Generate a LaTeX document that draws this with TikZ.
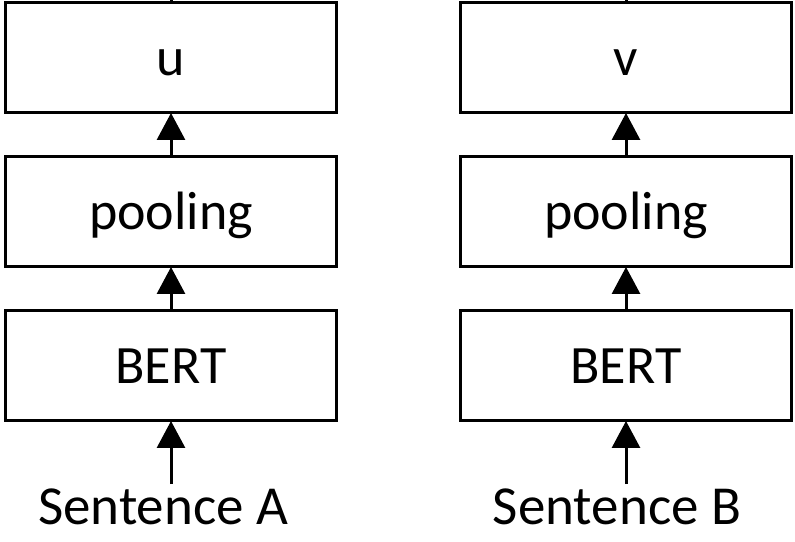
\documentclass[tikz,border=0pt]{standalone}
\usepackage{fontspec}
\setmainfont{Carlito}
\usetikzlibrary{arrows.meta,positioning}
\tikzstyle{block} = [draw=black, line width=3pt, outer sep=0pt, inner sep=0pt, minimum width=331pt, minimum height=110pt, text height=36pt, text depth=0pt, font=\fontsize{54}{64}\selectfont]
\tikzstyle{sent} = [inner sep=4pt, font=\fontsize{55}{66}\selectfont]
\tikzstyle{arrow} = [line width=3pt,-{Triangle[width=28pt,length=27pt]}]

\begin{document}
\begin{tikzpicture}[x=1pt,y=1pt]
\useasboundingbox (0,0) rectangle (795,541);
% Sentence A stack
\node[block] (bertA) at (171,175) {BERT};
\node[block, above=44pt of bertA] (poolA) {pooling};
\node[block, above=44pt of poolA] (u) {u};
\node[sent, anchor=base] (sentA) at (163,17) {Sentence A};

% Sentence B stack
\node[block] (bertB) at (626,175) {BERT};
\node[block, above=44pt of bertB] (poolB) {pooling};
\node[block, above=44pt of poolB] (v) {v};
\node[sent, anchor=base] (sentB) at (617,17) {Sentence B};

% outputs leave the picture at the top
\coordinate (uout) at (171,570);
\coordinate (vout) at (626,570);

% Arrows
\draw[arrow] (sentA.north -| bertA) -- (bertA);
\draw[arrow] (bertA) -- (poolA);
\draw[arrow] (poolA) -- (u);
\draw[line width=3pt] (u) -- (uout);
\draw[arrow] (sentB.north -| bertB) -- (bertB);
\draw[arrow] (bertB) -- (poolB);
\draw[arrow] (poolB) -- (v);
\draw[line width=3pt] (v) -- (vout);
\end{tikzpicture}
\end{document}
